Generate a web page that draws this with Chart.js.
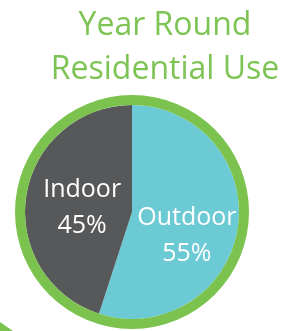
<!DOCTYPE html>
<html>
<head>
<meta charset="utf-8">
<script src="https://cdn.jsdelivr.net/npm/chart.js@4/dist/chart.umd.min.js"></script>
<style>
  html, body { margin: 0; padding: 0; background: #ffffff; overflow: hidden; width: 298px; height: 331px; }
  #wrap { position: absolute; left: 0; top: 0; width: 330px; height: 331px; }
  #corner { position: absolute; left: 0; top: 300px; width: 40px; height: 31px; background: #7cc24e;
            clip-path: polygon(0px 22px, 13px 31px, 0px 31px); }
</style>
</head>
<body>
<div id="wrap"><canvas id="c" width="330" height="331"></canvas></div>
<div id="corner"></div>
<script>
const titleLines = ['Year Round', 'Residential Use'];
const categories = ['Outdoor', 'Indoor'];
const shares = [55, 45];
const percentLabels = ['55%', '45%'];
const sliceColors = ['#6bcad3', '#57585a'];
const ringColor = '#7cc24e';
const titleColor = '#7ec455';

const labelNudge = [[2, 11], [3, -1]];

const sliceLabels = {
  id: 'sliceLabels',
  afterDatasetsDraw(chart) {
    const meta = chart.getDatasetMeta(1);
    const ctx = chart.ctx;
    ctx.save();
    ctx.fillStyle = '#ffffff';
    ctx.font = '25px "Open Sans"';
    ctx.textAlign = 'center';
    ctx.textBaseline = 'alphabetic';
    meta.data.forEach((arc, i) => {
      const p = arc.getCenterPoint();
      const x = p.x + labelNudge[i][0];
      const y = p.y + labelNudge[i][1] - 6;
      ctx.fillText(categories[i], x, y);
      ctx.fillText(percentLabels[i], x, y + 36);
    });
    ctx.restore();
  }
};

const titleShift = {
  id: 'titleShift',
  afterLayout(chart) {
    if (chart.titleBlock) {
      chart.titleBlock.left = 0;
      chart.titleBlock.right = chart.width;
    }
  }
};

new Chart(document.getElementById('c'), {
  type: 'pie',
  data: {
    labels: categories,
    datasets: [
      { data: [1], backgroundColor: [ringColor], borderWidth: 0, weight: 10 },
      { data: shares, backgroundColor: sliceColors, borderWidth: 0, weight: 107 }
    ]
  },
  options: {
    responsive: false,
    animation: false,
    events: [],
    layout: { padding: { top: 0, bottom: 2, left: 15, right: 81 } },
    plugins: {
      legend: { display: false },
      tooltip: { enabled: false },
      title: {
        display: true,
        text: titleLines,
        color: titleColor,
        font: { family: '"Open Sans"', size: 32, weight: 'normal', lineHeight: 1.375 },
        padding: { top: 4, bottom: 3 }
      }
    }
  },
  plugins: [sliceLabels, titleShift]
});
</script>
</body>
</html>
